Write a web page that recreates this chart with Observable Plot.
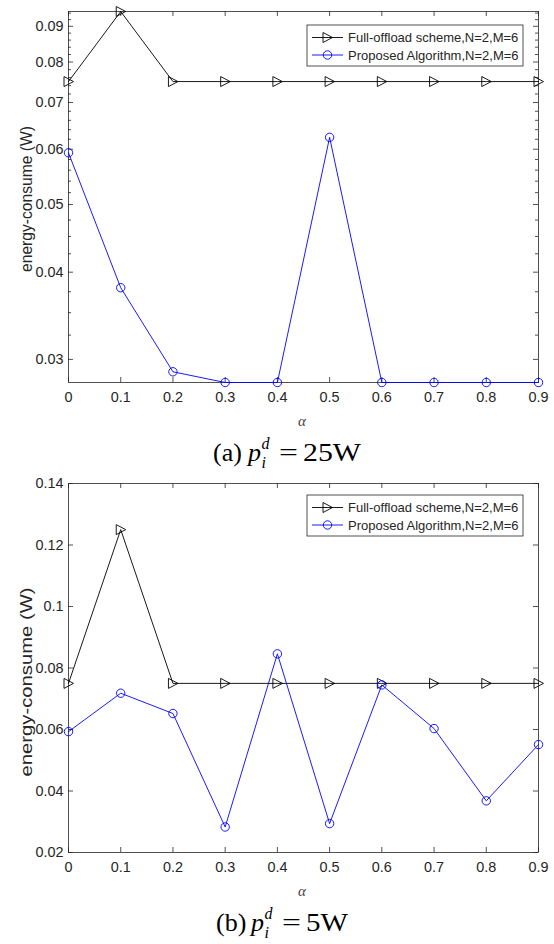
<!DOCTYPE html>
<html>
<head>
<meta charset="utf-8">
<script src="https://cdn.jsdelivr.net/npm/d3@7"></script>
<script src="https://cdn.jsdelivr.net/npm/@observablehq/plot@0.6"></script>
<style>
  html, body { margin: 0; padding: 0; background: #fff; }
  #wrap { position: relative; width: 554px; height: 944px; overflow: hidden; }
  #wrap > svg, #wrap > figure { position: absolute; left: 0; margin: 0; }
  #chartA { top: 0; }
  #chartB { top: 470px; }
  #overlay { top: 0; pointer-events: none; }
</style>
</head>
<body>
<div id="wrap"></div>
<script>
// ---------- data ----------
const alpha = [0, 0.1, 0.2, 0.3, 0.4, 0.5, 0.6, 0.7, 0.8, 0.9];
const seriesNames = ["Full-offload scheme,N=2,M=6", "Proposed Algorithm,N=2,M=6"];

// (a) p_i^d = 25W  (log y axis)
const fullOffloadA = [0.075, 0.0945, 0.075, 0.075, 0.075, 0.075, 0.075, 0.075, 0.075, 0.075];
const proposedA    = [0.0593, 0.0380, 0.0288, 0.0278, 0.0278, 0.0624, 0.0278, 0.0278, 0.0278, 0.0278];

// (b) p_i^d = 5W  (linear y axis)
const fullOffloadB = [0.075, 0.125, 0.075, 0.075, 0.075, 0.075, 0.075, 0.075, 0.075, 0.075];
const proposedB    = [0.0593, 0.0718, 0.0652, 0.0283, 0.0846, 0.0294, 0.0745, 0.0603, 0.0368, 0.0551];

// ticks
const xTicks = [0, 0.1, 0.2, 0.3, 0.4, 0.5, 0.6, 0.7, 0.8, 0.9];
const yTicksA = [0.03, 0.04, 0.05, 0.06, 0.07, 0.08, 0.09];
const yMinorA = [0.0325, 0.035, 0.0375, 0.0425, 0.045, 0.0475,
                 0.052, 0.054, 0.056, 0.058, 0.062, 0.064, 0.066, 0.068,
                 0.072, 0.074, 0.076, 0.078, 0.082, 0.084, 0.086, 0.088, 0.092, 0.094];
const yTicksB = [0.02, 0.04, 0.06, 0.08, 0.1, 0.12, 0.14];
const yDomainB = [0.02, 0.14];

// ---------- helpers ----------
const BLUE = "#0000ff";
const INK = "#262626";
const W = 554, H = 400, ML = 68, MR = 16;
const PW = W - ML - MR;
const triRight = {
  draw(ctx) {
    ctx.moveTo(-4.5, -5);
    ctx.lineTo(5, 0);
    ctx.lineTo(-4.5, 5);
    ctx.closePath();
  }
};
const fmt = d => String(d);

function makeChart({full, prop, yType, yDomain, yTicks, yMinor, marginTop, marginBottom}) {
  const PH = H - marginTop - marginBottom;
  const fullData = alpha.map((a, i) => ({a, v: full[i]}));
  const propData = alpha.map((a, i) => ({a, v: prop[i]}));
  const tk = {stroke: INK, strokeWidth: 0.8};
  const marks = [
    Plot.frame({stroke: INK, strokeWidth: 0.8}),
    Plot.axisX(xTicks, {anchor: "bottom", tickSize: 0, tickPadding: 9, tickFormat: fmt, label: null}),
    Plot.axisY(yTicks, {anchor: "left", tickSize: 0, tickPadding: 5, tickFormat: fmt, label: null}),
    // inward major ticks on all four sides
    Plot.tickX(xTicks, {x: d => d, insetTop: PH - 5, ...tk}),
    Plot.tickX(xTicks, {x: d => d, insetBottom: PH - 5, ...tk}),
    Plot.tickY(yTicks, {y: d => d, insetRight: PW - 5, ...tk}),
    Plot.tickY(yTicks, {y: d => d, insetLeft: PW - 5, ...tk})
  ];
  if (yMinor) {
    marks.push(
      Plot.tickY(yMinor, {y: d => d, insetRight: PW - 3, ...tk}),
      Plot.tickY(yMinor, {y: d => d, insetLeft: PW - 3, ...tk})
    );
  }
  marks.push(
    Plot.line(fullData, {x: "a", y: "v", stroke: "black", strokeWidth: 0.9}),
    Plot.dot(fullData, {x: "a", y: "v", symbol: triRight, stroke: "black", fill: "none", strokeWidth: 0.9}),
    Plot.line(propData, {x: "a", y: "v", stroke: BLUE, strokeWidth: 0.9}),
    Plot.dot(propData, {x: "a", y: "v", symbol: "circle", r: 4.2, stroke: BLUE, fill: "none", strokeWidth: 0.9})
  );
  return Plot.plot({
    width: W,
    height: H,
    marginLeft: ML,
    marginRight: MR,
    marginTop,
    marginBottom,
    style: {fontSize: "14.4px", fontFamily: "'Liberation Sans', Arial, Helvetica, sans-serif", color: INK, background: "transparent", overflow: "visible"},
    x: {domain: [0, 0.9]},
    y: {type: yType, domain: yDomain},
    marks
  });
}

const yDomainA = d3.extent(fullOffloadA.concat(proposedA));

const chartA = makeChart({full: fullOffloadA, prop: proposedA, yType: "log", yDomain: yDomainA,
  yTicks: yTicksA, yMinor: yMinorA, marginTop: 11, marginBottom: 18});
chartA.id = "chartA";
const chartB = makeChart({full: fullOffloadB, prop: proposedB, yType: "linear", yDomain: yDomainB,
  yTicks: yTicksB, yMinor: null, marginTop: 13, marginBottom: 18});
chartB.id = "chartB";

const wrap = document.getElementById("wrap");
wrap.appendChild(chartA);
wrap.appendChild(chartB);

// ---------- overlay text: labels, legends, captions ----------
const SANS = "'Liberation Sans', Arial, Helvetica, sans-serif";
const SERIF = "'Liberation Serif', 'Times New Roman', 'DejaVu Serif', serif";

function legend(oy) {
  return `
  <g transform="translate(0,${oy})">
    <rect x="307" y="25" width="216" height="41" fill="white" stroke="${INK}" stroke-width="0.8"/>
    <line x1="312" x2="343" y1="37.5" y2="37.5" stroke="black" stroke-width="0.9"/>
    <path d="M323,32.5L332.5,37.5L323,42.5Z" fill="none" stroke="black" stroke-width="0.9"/>
    <text x="348" y="37.5" dy="0.35em" font-family="${SANS}" font-size="13" fill="${INK}">${seriesNames[0]}</text>
    <line x1="312" x2="343" y1="55" y2="55" stroke="${BLUE}" stroke-width="0.9"/>
    <circle cx="327.5" cy="55" r="4.2" fill="none" stroke="${BLUE}" stroke-width="0.9"/>
    <text x="348" y="55" dy="0.35em" font-family="${SANS}" font-size="13" fill="${INK}">${seriesNames[1]}</text>
  </g>`;
}

// caption pieces placed individually: tag, italic p, superscript d, subscript i, "=", value
function caption(x0, y, tag, value, valueLen) {
  const f = `font-family="${SERIF}" fill="black"`;
  return `
  <g>
    <text x="${x0}" y="${y}" ${f} font-size="26">${tag}</text>
    <text x="${x0 + 35}" y="${y}" ${f} font-size="26" font-style="italic">p</text>
    <text x="${x0 + 48.5}" y="${y - 12}" ${f} font-size="16" font-style="italic">d</text>
    <text x="${x0 + 48.5}" y="${y + 7}" ${f} font-size="16" font-style="italic">i</text>
    <text x="${x0 + 66}" y="${y}" ${f} font-size="26" textLength="19" lengthAdjust="spacingAndGlyphs">=</text>
    <text x="${x0 + 90}" y="${y}" ${f} font-size="26" textLength="${valueLen}" lengthAdjust="spacingAndGlyphs">${value}</text>
  </g>`;
}

const overlay = `
<svg id="overlay" width="554" height="944" xmlns="http://www.w3.org/2000/svg">
  <text transform="translate(32,199) rotate(-90)" text-anchor="middle" font-family="${SANS}" font-size="15.6" fill="${INK}" textLength="146" lengthAdjust="spacingAndGlyphs">energy-consume (W)</text>
  <text transform="translate(32,682) rotate(-90)" text-anchor="middle" font-family="${SANS}" font-size="15.6" fill="${INK}" textLength="189" lengthAdjust="spacingAndGlyphs">energy-consume (W)</text>
  <text x="302" y="425.5" text-anchor="middle" font-family="${SERIF}" font-style="italic" font-size="15" fill="#444">α</text>
  <text x="302" y="895.5" text-anchor="middle" font-family="${SERIF}" font-style="italic" font-size="15" fill="#444">α</text>
  ${legend(0)}
  ${legend(470)}
  ${caption(213, 461, "(a)", "25W", 58)}
  ${caption(216, 931, "(b)", "5W", 42)}
</svg>`;
wrap.insertAdjacentHTML("beforeend", overlay);
</script>
</body>
</html>
